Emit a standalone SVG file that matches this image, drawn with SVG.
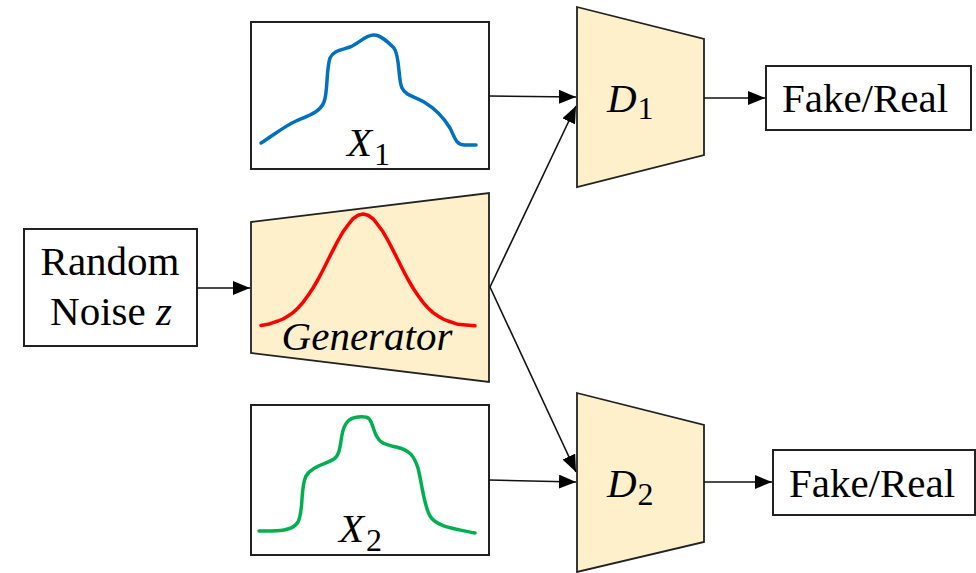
<svg xmlns="http://www.w3.org/2000/svg" width="976" height="573" viewBox="0 0 976 573">
<defs>
<style>
.box{fill:#fff;stroke:#222;stroke-width:2}
.trap{fill:#FFF0CC;stroke:#222;stroke-width:1.8}
.lbl{font-family:'Liberation Serif','DejaVu Serif','Times New Roman',serif;font-size:41px;fill:#000}
.it{font-style:italic}
.conn{stroke:#111;stroke-width:1.6;fill:none;marker-end:url(#ah)}
.curve{fill:none;stroke-width:3.5;stroke-linecap:round;stroke-linejoin:round}
</style>
<marker id="ah" markerUnits="userSpaceOnUse" markerWidth="18" markerHeight="14" refX="17" refY="7" orient="auto">
<path d="M0,0 L17,7 L0,14 Z" fill="#000"/>
</marker>
</defs>
<rect width="976" height="573" fill="#fff"/>

<g id="noise">
<rect class="box" x="24" y="229" width="173" height="117"/>
<text class="lbl" font-family="Liberation Serif, serif" x="110" y="275" text-anchor="middle">Random</text>
<text class="lbl" font-family="Liberation Serif, serif" x="111" y="325" text-anchor="middle">Noise <tspan class="it">z</tspan></text>
</g>

<g id="x1">
<rect class="box" x="251" y="22" width="238" height="147"/>
<path class="curve" stroke="#0070C0" d="M261,143 C275,134 285,126 296,121 C310,115 320,112 324,102 C328,92 326,70 330,58 C334,50 342,50 350,47 C358,44 364,36 373,35 C380,34 388,42 394,48 C400,56 398,80 402,88 C406,96 414,96 424,102 C434,108 444,118 450,128 C455,138 456,145 465,145 L476,145"/>
<text class="lbl" x="347" y="156"><tspan class="it">X</tspan><tspan font-size="32" dx="2" dy="9">1</tspan></text>
</g>

<g id="generator">
<polygon class="trap" points="251,222 489,193 489,382 251,353"/>
<polyline class="curve" stroke="#FF0000" points="261,325.5 268,324.3 273,322.6 278,321 283,319 288,316 293,312.6 298,308 303,302.4 308,295.5 313,288 318,279.5 323,270 328,260 333,250.1 338,240.5 343,231.8 348,225 353,218.7 358,215.2 363,214 368,215.2 373,218.7 378,225 383,231.8 388,240.5 393,250.1 398,260 403,270 408,279.5 413,288 418,295.5 423,302.4 428,308 433,312.6 438,316 443,319 448,321 453,322.6 458,324.3 463,324.8 475,325.8"/>
<text class="lbl it" x="367" y="350" text-anchor="middle">Generator</text>
</g>

<g id="x2">
<rect class="box" x="251" y="405" width="238" height="150"/>
<path class="curve" stroke="#00B050" d="M259,531 C275,531 292,532 298,522 C304,510 300,488 306,476 C312,466 326,464 334,459 C340,455 340,445 342,435 C344,424 348,418 358,417 C370,416 370,418 374,430 C378,442 382,444 396,447 C410,450 414,456 418,468 C422,484 424,506 430,516 C436,526 450,528 475,533"/>
<text class="lbl" x="339" y="542"><tspan class="it">X</tspan><tspan font-size="32" dx="2" dy="9">2</tspan></text>
</g>

<g id="d1">
<polygon class="trap" points="577,7 704,39 704,155 577,187"/>
<text class="lbl" x="607" y="112"><tspan class="it">D</tspan><tspan font-size="32" dx="1" dy="7">1</tspan></text>
</g>

<g id="d2">
<polygon class="trap" points="577,393 704,425 704,542 577,572"/>
<text class="lbl" x="607" y="497"><tspan class="it">D</tspan><tspan font-size="32" dx="1" dy="8">2</tspan></text>
</g>

<g id="out1">
<rect class="box" x="766" y="66" width="205" height="64"/>
<text class="lbl" x="865" y="112" text-anchor="middle">Fake/Real</text>
</g>

<g id="out2">
<rect class="box" x="773" y="450" width="202" height="65"/>
<text class="lbl" x="872" y="497" text-anchor="middle">Fake/Real</text>
</g>

<g id="connectors">
<line class="conn" x1="197" y1="288" x2="250" y2="288"/>
<line class="conn" x1="489" y1="96" x2="576" y2="97"/>
<line class="conn" x1="490" y1="287" x2="576" y2="106"/>
<line class="conn" x1="490" y1="287" x2="576" y2="472"/>
<line class="conn" x1="489" y1="480" x2="576" y2="482"/>
<line class="conn" x1="704" y1="98" x2="765" y2="98"/>
<line class="conn" x1="704" y1="482" x2="772" y2="482"/>
</g>
</svg>
